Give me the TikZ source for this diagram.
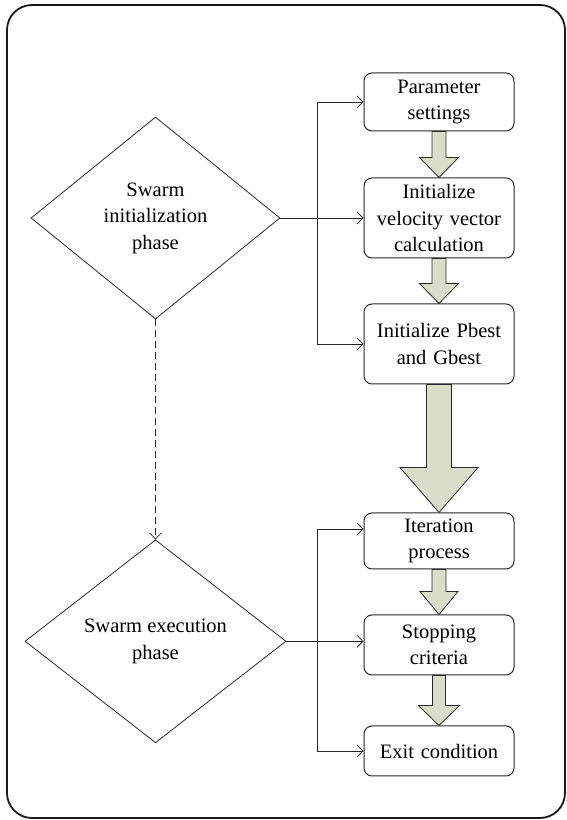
\documentclass[tikz,border=0pt]{standalone}
\usepackage{fontspec}
\setmainfont{Liberation Serif}
\usepackage{xcolor}
\usepackage{tikz}
\usetikzlibrary{positioning, arrows.meta, shapes, calc}

\definecolor{arrowgreen}{RGB}{217,221,201}
\definecolor{linegray}{RGB}{40,40,40}

\newcommand{\fatarrow}[5]{%
  \draw[fat] let \p1=(#1.south), \p2=(#2.north) in
    (\x1-#3,\y1) -- (\x1-#3,\y2+#5) -- (\x1-#4,\y2+#5) -- (\x1,\y2)
    -- (\x1+#4,\y2+#5) -- (\x1+#3,\y2+#5) -- (\x1+#3,\y1) -- cycle;}

\begin{document}
\begin{tikzpicture}[x=1pt, y=1pt,
    box/.style={rectangle, rounded corners=8pt, draw=linegray, line width=1pt, text width=144pt, align=center, inner xsep=3pt, inner ysep=2pt, font=\fontsize{20.5}{26.5}\selectfont},
    phase/.style={diamond, draw=linegray, line width=0.8pt, inner sep=0pt, align=center, font=\fontsize{20.5}{26.5}\selectfont},
    link/.style={draw=linegray, line width=0.8pt, -{Straight Barb[length=6pt,width=12pt]}},
    fat/.style={draw=linegray, line width=0.8pt, fill=arrowgreen, line join=miter}]
    \useasboundingbox (0,0) rectangle (567,820);
    \draw[line width=1.8pt, rounded corners=25pt, draw=black!90] (7,2) rectangle (565,815);

    \node (param) [box, minimum height=58pt] at (439,718) {Parameter\\settings};
    \node (vel) [box, minimum height=80pt, below=46pt of param] {Initialize\\velocity vector\\calculation};
    \node (pbest) [box, minimum height=80pt, below=45pt of vel] {Initialize Pbest\\and Gbest};
    \node (iter) [box, minimum height=56pt, below=128pt of pbest] {Iteration\\process};
    \node (stopc) [box, minimum height=60pt, below=45pt of iter] {Stopping\\criteria};
    \node (exitc) [box, minimum height=50pt, below=50pt of stopc] {Exit condition};

    \node (init) [phase, minimum width=249pt, minimum height=202pt] at (155.5,602) {Swarm\\initialization\\phase};
    \node (exec) [phase, minimum width=261pt, minimum height=203pt, below=220pt of init] {Swarm execution\\phase};

    \coordinate (busa) at ($(init.east -| param.west)+(-46,0)$);
    \draw [linegray, line width=0.8pt] (init.east) -- (busa);
    \draw [link] (busa) |- (param.west);
    \draw [link] (busa) -- (busa -| vel.west);
    \draw [link] (busa) |- (pbest.west);

    \coordinate (busb) at ($(exec.east -| iter.west)+(-46,0)$);
    \draw [linegray, line width=0.8pt] (exec.east) -- (busb);
    \draw [link] (busb) |- ([yshift=12pt]iter.west);
    \draw [link] (busb) -- (busb -| stopc.west);
    \draw [link] (busb) |- (exitc.west);

    \draw [link, dash pattern=on 7pt off 4pt] (init.south) -- (exec.north);

    \fatarrow{param}{vel}{7pt}{19.5pt}{20pt}
    \fatarrow{vel}{pbest}{7pt}{19.5pt}{20pt}
    \fatarrow{pbest}{iter}{12.5pt}{39pt}{45pt}
    \fatarrow{iter}{stopc}{7pt}{19pt}{23pt}
    \fatarrow{stopc}{exitc}{6.5pt}{20.5pt}{20pt}
\end{tikzpicture}
\end{document}
